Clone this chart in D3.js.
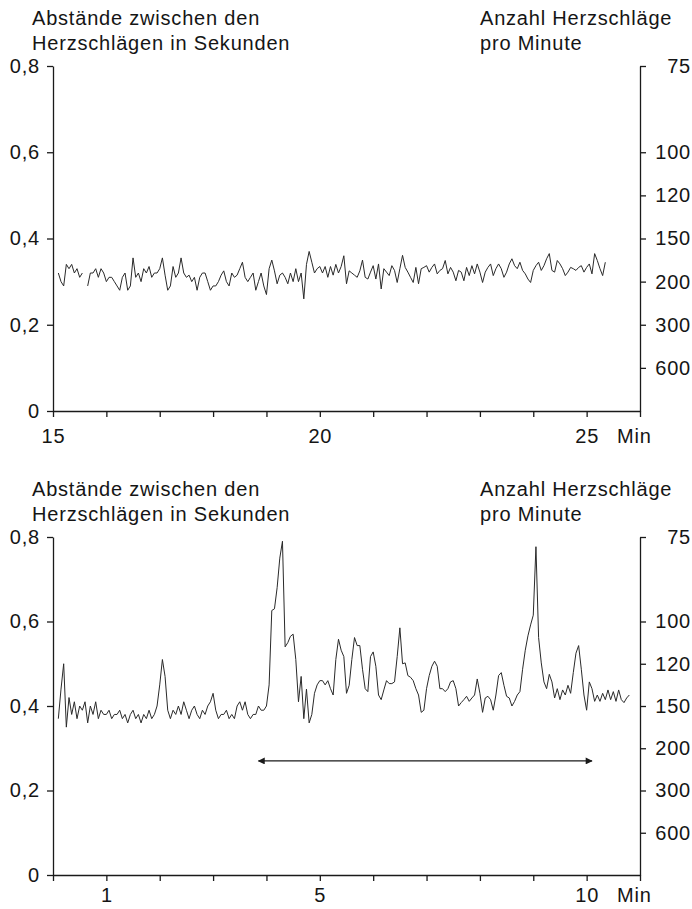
<!DOCTYPE html>
<html>
<head>
    <meta charset="utf-8">
    <title>Abstände zwischen den Herzschlägen</title>
    <script src="https://cdnjs.cloudflare.com/ajax/libs/d3/7.8.5/d3.min.js"></script>
</head>
<style>
    body {
        margin: 0;
        background: white;
    }
    svg text {
        font-family: "Liberation Sans", Arial, sans-serif;
        font-size: 20px;
        letter-spacing: 0.8px;
        fill: #151515;
    }
    .axis path, .axis line {
        stroke: #1a1a1a;
        stroke-width: 1.3;
    }
    .series {
        fill: none;
        stroke: #2a2a2a;
        stroke-width: 1;
        stroke-linejoin: round;
    }
</style>
<body>
    <div id="chart"></div>
    <script>
        // seconds between beats, ticks on the left axis
        var leftTicks = [0, 0.2, 0.4, 0.6, 0.8];
        // beats per minute shown on the right axis (placed at 60 / bpm seconds)
        var bpmTicks = [75, 100, 120, 150, 200, 300, 600];

        var titleLeft = ["Abstände zwischen den", "Herzschlägen in Sekunden"];
        var titleRight = ["Anzahl Herzschläge", "pro Minute"];

        // upper panel: minutes 15 - 26
        var topDomain = [15, 26];
        var topMinuteTicks = [15, 16, 17, 18, 19, 20, 21, 22, 23, 24, 25, 26];
        var topTickLabels = [15, 20, 25];
        var topStart = 15.1;   // first sample (min)
        var topStep = 0.05;    // sample spacing (min)
        var topValues = [
            0.32, 0.30, 0.29, 0.34, 0.33, 0.34, 0.32, 0.33, 0.31, 0.32,
            null,
            0.29, 0.32, 0.32, 0.33, 0.31, 0.33, 0.32, 0.30, 0.31, 0.31,
            0.30, 0.29, 0.28, 0.31, 0.32, 0.28, 0.29, 0.355, 0.31, 0.32,
            0.30, 0.33, 0.32, 0.335, 0.31, 0.32, 0.32, 0.33, 0.355, 0.315,
            0.28, 0.29, 0.335, 0.31, 0.32, 0.355, 0.32, 0.31, 0.315, 0.30,
            0.31, 0.28, 0.31, 0.32, 0.32, 0.30, 0.28, 0.29, 0.29, 0.30,
            0.315, 0.325, 0.30, 0.29, 0.32, 0.31, 0.315, 0.33, 0.345, 0.31,
            0.30, 0.31, 0.32, 0.28, 0.30, 0.32, 0.29, 0.27, 0.33, 0.35,
            0.325, 0.295, 0.315, 0.32, 0.31, 0.295, 0.32, 0.30, 0.33, 0.30,
            0.32, 0.26, 0.34, 0.37, 0.345, 0.32, 0.33, 0.335, 0.32, 0.335,
            0.31, 0.335, 0.315, 0.34, 0.32, 0.335, 0.36, 0.295, 0.325, 0.32,
            0.315, 0.31, 0.325, 0.35, 0.31,
            0.306, 0.322, 0.337, 0.306, 0.341, 0.283, 0.33, 0.322, 0.314, 0.337,
            0.326, 0.298, 0.33, 0.361, 0.333, 0.322, 0.31, 0.298, 0.333, 0.295,
            0.33, 0.333, 0.337, 0.322, 0.333, 0.341, 0.318, 0.326, 0.33, 0.349,
            0.318, 0.333, 0.322, 0.302, 0.326, 0.322, 0.302, 0.333, 0.314, 0.337,
            0.318, 0.341, 0.322, 0.298, 0.322, 0.333, 0.341, 0.314, 0.33, 0.341,
            0.33, 0.31, 0.322, 0.341, 0.353, 0.337, 0.33, 0.345, 0.326, 0.318,
            0.306, 0.298, 0.326, 0.337, 0.345, 0.326, 0.337, 0.353, 0.365, 0.326,
            0.322, 0.349, 0.341, 0.33, 0.314, 0.322, 0.333, 0.33, 0.326, 0.333,
            0.337, 0.322, 0.333, 0.341, 0.318, 0.365, 0.349, 0.33, 0.314, 0.345
        ];

        // lower panel: minutes 0 - 11
        var bottomDomain = [0, 11];
        var bottomMinuteTicks = [0, 1, 2, 3, 4, 5, 6, 7, 8, 9, 10, 11];
        var bottomTickLabels = [1, 5, 10];
        var bottomStart = 0.1;
        var bottomStep = 0.05;
        var bottomValues = [
            0.37, 0.44, 0.50, 0.35, 0.42, 0.38, 0.41, 0.37, 0.40, 0.39,
            0.41, 0.36, 0.40, 0.38, 0.41, 0.37, 0.39, 0.38, 0.38, 0.39,
            0.37, 0.38, 0.38, 0.39, 0.37, 0.38, 0.36, 0.38, 0.39, 0.37,
            0.38, 0.36, 0.38, 0.37, 0.39, 0.37, 0.38, 0.40, 0.45, 0.51,
            0.47, 0.39, 0.37, 0.39, 0.38, 0.40, 0.38, 0.41, 0.39, 0.37,
            0.39, 0.40, 0.38, 0.37, 0.39, 0.38, 0.40, 0.41, 0.43, 0.39,
            0.37, 0.38, 0.38, 0.39, 0.37, 0.38, 0.37, 0.40, 0.41, 0.39,
            0.41, 0.38, 0.37, 0.38, 0.38, 0.40, 0.39, 0.39, 0.40, 0.45,
            0.626, 0.63, 0.68, 0.75, 0.79, 0.54, 0.55, 0.565, 0.57, 0.51,
            0.41, 0.47, 0.37, 0.44, 0.36, 0.38, 0.43, 0.45, 0.46, 0.46,
            0.45, 0.46, 0.441, 0.426, 0.51, 0.558, 0.532, 0.517, 0.43, 0.449,
            0.51, 0.562, 0.543, 0.543, 0.487, 0.441, 0.434, 0.517, 0.528, 0.494,
            0.426, 0.415, 0.438, 0.46, 0.453, 0.453, 0.457, 0.517, 0.585, 0.50,
            0.502, 0.472, 0.468, 0.46, 0.441, 0.426, 0.385, 0.39, 0.441, 0.472,
            0.494, 0.506, 0.494, 0.441, 0.441, 0.434, 0.441, 0.457, 0.46, 0.441,
            0.40, 0.408, 0.415, 0.423, 0.411, 0.419, 0.426, 0.464, 0.43, 0.385,
            0.419, 0.423, 0.415, 0.39, 0.426, 0.472, 0.479, 0.449, 0.423, 0.419,
            0.40, 0.411, 0.426, 0.434, 0.487, 0.532, 0.566, 0.592, 0.615, 0.777,
            0.562, 0.502, 0.457, 0.441, 0.475, 0.457, 0.419, 0.441, 0.415, 0.438,
            0.426, 0.449, 0.43, 0.479, 0.525, 0.543, 0.487, 0.426, 0.39, 0.457,
            0.441, 0.411, 0.426, 0.411, 0.43, 0.415, 0.438, 0.415, 0.434, 0.411,
            0.438, 0.415, 0.408, 0.419, 0.426
        ];
        // double arrow under the lower trace (from, to in min; level in s)
        var arrowFrom = 3.85;
        var arrowTo = 10.1;
        var arrowLevel = 0.27;

        var width = 692;
        var height = 909;

        var svg = d3.select("#chart")
            .append("svg")
            .attr("width", width)
            .attr("height", height);

        var defs = svg.append("defs");
        defs.append("marker")
            .attr("id", "arrowhead")
            .attr("viewBox", "0 0 10 10")
            .attr("refX", 9)
            .attr("refY", 5)
            .attr("markerWidth", 9)
            .attr("markerHeight", 7)
            .attr("markerUnits", "userSpaceOnUse")
            .attr("orient", "auto-start-reverse")
            .append("path")
            .attr("d", "M0,0L10,5L0,10z")
            .attr("fill", "#1a1a1a");

        function commaFormat(d) {
            return d === 0 ? "0" : d3.format(".1f")(d).replace(".", ",");
        }

        function drawPanel(cfg) {
            var x = d3.scaleLinear().domain(cfg.domain).range([53, 640]);
            var y = d3.scaleLinear().domain([0, 0.8]).range([cfg.bottom, cfg.top]);
            var g = svg.append("g");

            // titles
            titleLeft.forEach(function(t, i) {
                g.append("text").attr("x", 32).attr("y", cfg.titleY + i * 25).text(t);
            });
            titleRight.forEach(function(t, i) {
                g.append("text").attr("x", 480).attr("y", cfg.titleY + i * 25).text(t);
            });

            // left axis
            g.append("g")
                .attr("class", "axis")
                .attr("transform", "translate(53,0)")
                .call(d3.axisLeft(y)
                    .tickValues(leftTicks)
                    .tickSize(6)
                    .tickSizeOuter(0)
                    .tickPadding(7)
                    .tickFormat(commaFormat));

            // right axis, beats per minute
            var right = g.append("g")
                .attr("class", "axis")
                .attr("transform", "translate(640,0)")
                .call(d3.axisRight(y)
                    .tickValues(bpmTicks.map(function(b) { return 60 / b; }))
                    .tickSize(6)
                    .tickSizeOuter(0)
                    .tickFormat(function(d, i) { return bpmTicks[i]; }));
            right.selectAll("text")
                .attr("x", 51)
                .attr("text-anchor", "end");

            // time axis
            g.append("g")
                .attr("class", "axis")
                .attr("transform", "translate(0," + cfg.bottom + ")")
                .call(d3.axisBottom(x)
                    .tickValues(cfg.minuteTicks)
                    .tickSize(6)
                    .tickSizeOuter(0)
                    .tickPadding(cfg.labelPad)
                    .tickFormat(function(d) {
                        return cfg.tickLabels.indexOf(d) >= 0 ? d : "";
                    }));

            g.selectAll(".axis text")
                .attr("font-family", null)
                .attr("font-size", null)
                .attr("fill", null);

            g.append("text")
                .attr("x", 617)
                .attr("y", cfg.bottom + 6 + cfg.labelPad)
                .attr("dy", "0.71em")
                .text("Min");

            // trace
            var points = cfg.values.map(function(v, i) {
                return { t: cfg.start + i * cfg.step, v: v };
            });
            var line = d3.line()
                .defined(function(d) { return d.v !== null; })
                .x(function(d) { return x(d.t); })
                .y(function(d) { return y(d.v); });
            g.append("path")
                .datum(points)
                .attr("class", "series")
                .attr("d", line);

            return { x: x, y: y, g: g };
        }

        drawPanel({
            domain: topDomain,
            minuteTicks: topMinuteTicks,
            tickLabels: topTickLabels,
            start: topStart,
            step: topStep,
            values: topValues,
            titleY: 25,
            top: 66,
            bottom: 411,
            labelPad: 12
        });

        var lower = drawPanel({
            domain: bottomDomain,
            minuteTicks: bottomMinuteTicks,
            tickLabels: bottomTickLabels,
            start: bottomStart,
            step: bottomStep,
            values: bottomValues,
            titleY: 496,
            top: 537,
            bottom: 875,
            labelPad: 7
        });

        lower.g.append("line")
            .attr("x1", lower.x(arrowFrom))
            .attr("x2", lower.x(arrowTo))
            .attr("y1", lower.y(arrowLevel))
            .attr("y2", lower.y(arrowLevel))
            .attr("stroke", "#1a1a1a")
            .attr("stroke-width", 1.3)
            .attr("marker-start", "url(#arrowhead)")
            .attr("marker-end", "url(#arrowhead)");
    </script>
</body>
</html>
